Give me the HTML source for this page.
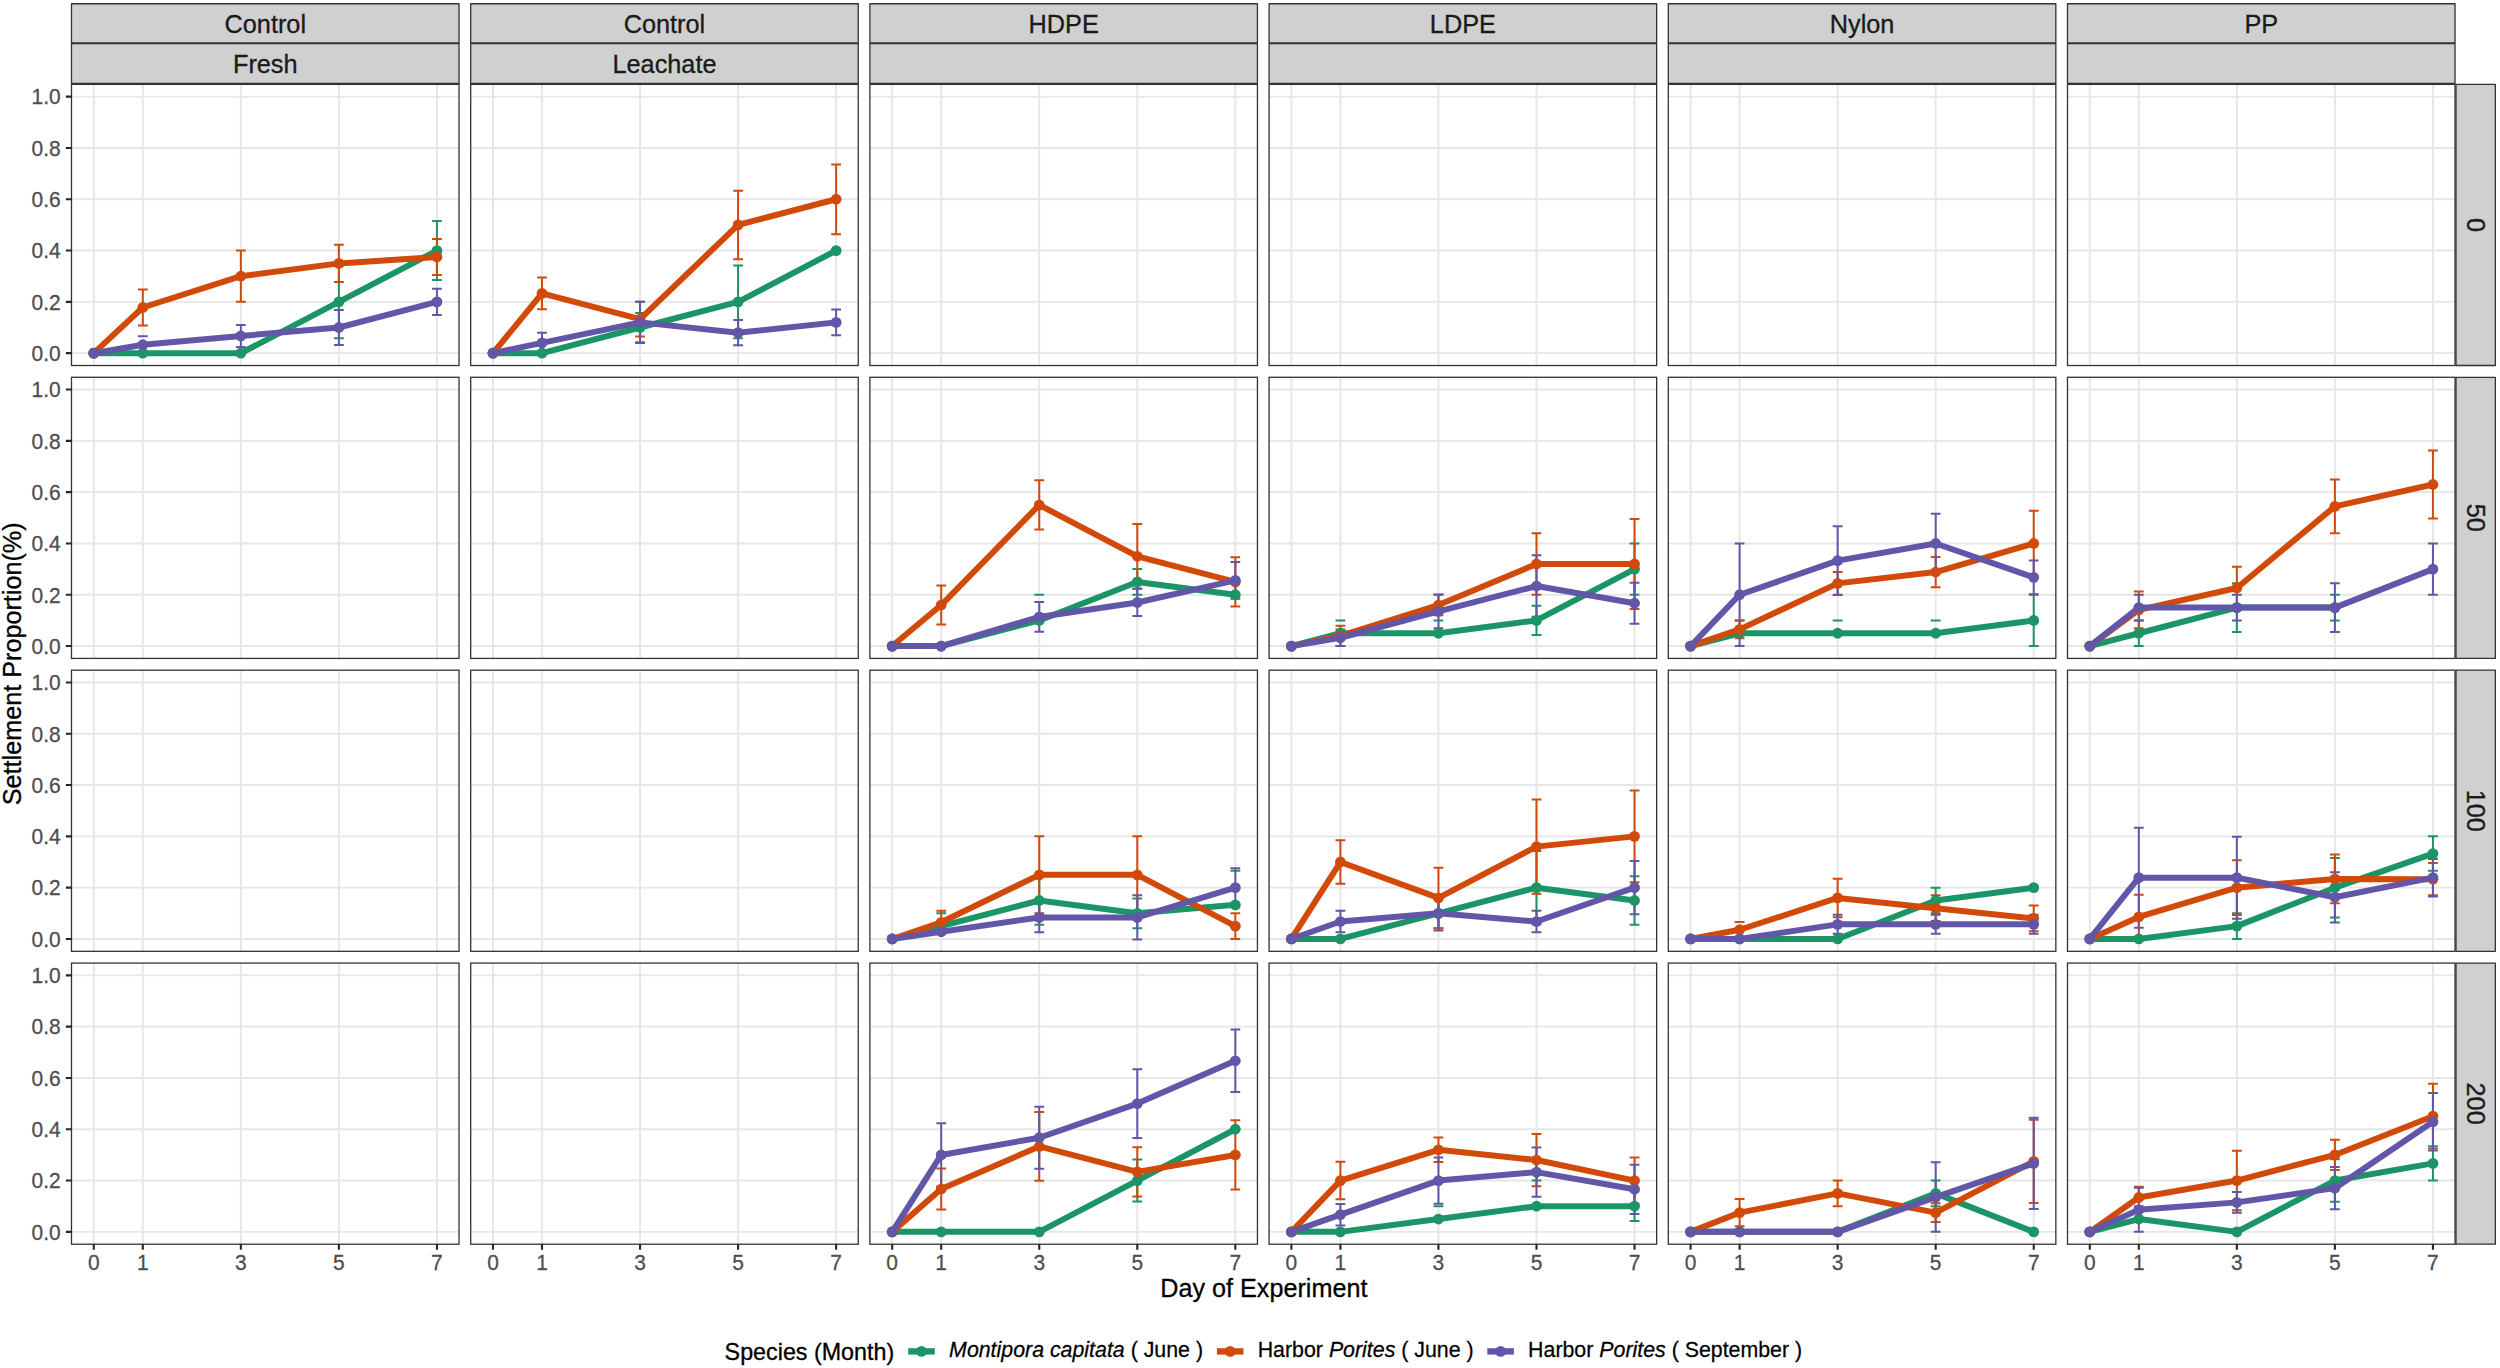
<!DOCTYPE html>
<html lang="en"><head><meta charset="utf-8"><title>Settlement Proportion by Day of Experiment</title>
<style>html,body{margin:0;padding:0;background:#fff}body{width:2500px;height:1368px;overflow:hidden}svg{display:block}text{font-family:"Liberation Sans",sans-serif}.tl{font-size:21.0px;fill:#4D4D4D;stroke:#4D4D4D;stroke-width:.25px}.st{font-size:25.3px;fill:#1A1A1A;stroke:#1A1A1A;stroke-width:.3px}.at{font-size:25.2px;fill:#000;stroke:#000;stroke-width:.3px}.lt{font-size:23.3px;fill:#000;stroke:#000;stroke-width:.3px}.ll{font-size:21.35px;fill:#000;stroke:#000;stroke-width:.25px}</style></head><body>
<svg width="2500" height="1368" viewBox="0 0 2500 1368">
<rect width="2500" height="1368" fill="#fff"/>
<g>
<path d="M71.49 353.17H459.04M71.49 301.87H459.04M71.49 250.57H459.04M71.49 199.27H459.04M71.49 147.97H459.04M71.49 96.67H459.04M93.79 84.38V365.52M142.81 84.38V365.52M240.85 84.38V365.52M338.89 84.38V365.52M436.93 84.38V365.52" stroke="#E6E6E6" stroke-width="1.9" fill="none"/>
<path d="M333.99 265.45H343.79M338.89 265.45V338.29M333.99 338.29H343.79M432.03 221.07H441.83M436.93 221.07V280.07M432.03 280.07H441.83" stroke="#1C9566" stroke-width="2.0" fill="none"/>
<path d="M137.91 289.56H147.71M142.81 289.56V325.47M137.91 325.47H147.71M235.95 250.57H245.75M240.85 250.57V301.87M235.95 301.87H245.75M333.99 244.67H343.79M338.89 244.67V282.12M333.99 282.12H343.79M432.03 239.03H441.83M436.93 239.03V274.94M432.03 274.94H441.83" stroke="#D24A0A" stroke-width="2.0" fill="none"/>
<path d="M137.91 336.24H147.71M235.95 324.95H245.75M240.85 324.95V347.01M235.95 347.01H245.75M333.99 310.08H343.79M338.89 310.08V344.96M333.99 344.96H343.79M432.03 288.79H441.83M436.93 288.79V314.95M432.03 314.95H441.83" stroke="#6256A8" stroke-width="2.0" fill="none"/>
<polyline points="93.79,353.17 142.81,353.17 240.85,353.17 338.89,301.87 436.93,250.57" stroke="#1C9566" stroke-width="6.0" fill="none" stroke-linejoin="round" stroke-linecap="butt"/>
<polyline points="93.79,353.17 142.81,307.51 240.85,276.22 338.89,263.39 436.93,256.98" stroke="#D24A0A" stroke-width="6.0" fill="none" stroke-linejoin="round" stroke-linecap="butt"/>
<polyline points="93.79,353.17 142.81,344.71 240.85,335.98 338.89,327.52 436.93,301.87" stroke="#6256A8" stroke-width="6.0" fill="none" stroke-linejoin="round" stroke-linecap="butt"/>
<circle cx="93.79" cy="353.17" r="5.4" fill="#1C9566"/>
<circle cx="142.81" cy="353.17" r="5.4" fill="#1C9566"/>
<circle cx="240.85" cy="353.17" r="5.4" fill="#1C9566"/>
<circle cx="338.89" cy="301.87" r="5.4" fill="#1C9566"/>
<circle cx="436.93" cy="250.57" r="5.4" fill="#1C9566"/>
<circle cx="93.79" cy="353.17" r="5.4" fill="#D24A0A"/>
<circle cx="142.81" cy="307.51" r="5.4" fill="#D24A0A"/>
<circle cx="240.85" cy="276.22" r="5.4" fill="#D24A0A"/>
<circle cx="338.89" cy="263.39" r="5.4" fill="#D24A0A"/>
<circle cx="436.93" cy="256.98" r="5.4" fill="#D24A0A"/>
<circle cx="93.79" cy="353.17" r="5.4" fill="#6256A8"/>
<circle cx="142.81" cy="344.71" r="5.4" fill="#6256A8"/>
<circle cx="240.85" cy="335.98" r="5.4" fill="#6256A8"/>
<circle cx="338.89" cy="327.52" r="5.4" fill="#6256A8"/>
<circle cx="436.93" cy="301.87" r="5.4" fill="#6256A8"/>
<rect x="71.49" y="84.38" width="387.55" height="281.14" fill="none" stroke="#333333" stroke-width="1.3"/>
</g>
<g>
<path d="M470.69 353.17H858.24M470.69 301.87H858.24M470.69 250.57H858.24M470.69 199.27H858.24M470.69 147.97H858.24M470.69 96.67H858.24M492.99 84.38V365.52M542.01 84.38V365.52M640.05 84.38V365.52M738.09 84.38V365.52M836.13 84.38V365.52" stroke="#E6E6E6" stroke-width="1.9" fill="none"/>
<path d="M635.15 312.9H644.95M640.05 312.9V342.14M635.15 342.14H644.95M733.19 265.45H742.99M738.09 265.45V338.29M733.19 338.29H742.99" stroke="#1C9566" stroke-width="2.0" fill="none"/>
<path d="M537.11 277.5H546.91M542.01 277.5V309.31M537.11 309.31H546.91M635.15 301.87H644.95M640.05 301.87V336.5M635.15 336.5H644.95M733.19 190.68H742.99M738.09 190.68V259.16M733.19 259.16H742.99M831.23 164.39H841.03M836.13 164.39V234.15M831.23 234.15H841.03" stroke="#D24A0A" stroke-width="2.0" fill="none"/>
<path d="M537.11 332.65H546.91M542.01 332.65V353.17M537.11 353.17H546.91M635.15 301.87H644.95M640.05 301.87V342.91M635.15 342.91H644.95M733.19 320.08H742.99M738.09 320.08V345.22M733.19 345.22H742.99M831.23 309.56H841.03M836.13 309.56V335.21M831.23 335.21H841.03" stroke="#6256A8" stroke-width="2.0" fill="none"/>
<polyline points="492.99,353.17 542.01,353.17 640.05,327.52 738.09,301.87 836.13,250.57" stroke="#1C9566" stroke-width="6.0" fill="none" stroke-linejoin="round" stroke-linecap="butt"/>
<polyline points="492.99,353.17 542.01,293.41 640.05,319.18 738.09,224.92 836.13,199.27" stroke="#D24A0A" stroke-width="6.0" fill="none" stroke-linejoin="round" stroke-linecap="butt"/>
<polyline points="492.99,353.17 542.01,342.91 640.05,322.39 738.09,332.65 836.13,322.39" stroke="#6256A8" stroke-width="6.0" fill="none" stroke-linejoin="round" stroke-linecap="butt"/>
<circle cx="492.99" cy="353.17" r="5.4" fill="#1C9566"/>
<circle cx="542.01" cy="353.17" r="5.4" fill="#1C9566"/>
<circle cx="640.05" cy="327.52" r="5.4" fill="#1C9566"/>
<circle cx="738.09" cy="301.87" r="5.4" fill="#1C9566"/>
<circle cx="836.13" cy="250.57" r="5.4" fill="#1C9566"/>
<circle cx="492.99" cy="353.17" r="5.4" fill="#D24A0A"/>
<circle cx="542.01" cy="293.41" r="5.4" fill="#D24A0A"/>
<circle cx="640.05" cy="319.18" r="5.4" fill="#D24A0A"/>
<circle cx="738.09" cy="224.92" r="5.4" fill="#D24A0A"/>
<circle cx="836.13" cy="199.27" r="5.4" fill="#D24A0A"/>
<circle cx="492.99" cy="353.17" r="5.4" fill="#6256A8"/>
<circle cx="542.01" cy="342.91" r="5.4" fill="#6256A8"/>
<circle cx="640.05" cy="322.39" r="5.4" fill="#6256A8"/>
<circle cx="738.09" cy="332.65" r="5.4" fill="#6256A8"/>
<circle cx="836.13" cy="322.39" r="5.4" fill="#6256A8"/>
<rect x="470.69" y="84.38" width="387.55" height="281.14" fill="none" stroke="#333333" stroke-width="1.3"/>
</g>
<g>
<path d="M869.89 353.17H1257.44M869.89 301.87H1257.44M869.89 250.57H1257.44M869.89 199.27H1257.44M869.89 147.97H1257.44M869.89 96.67H1257.44M892.19 84.38V365.52M941.21 84.38V365.52M1039.25 84.38V365.52M1137.29 84.38V365.52M1235.33 84.38V365.52" stroke="#E6E6E6" stroke-width="1.9" fill="none"/>
<rect x="869.89" y="84.38" width="387.55" height="281.14" fill="none" stroke="#333333" stroke-width="1.3"/>
</g>
<g>
<path d="M1269.09 353.17H1656.64M1269.09 301.87H1656.64M1269.09 250.57H1656.64M1269.09 199.27H1656.64M1269.09 147.97H1656.64M1269.09 96.67H1656.64M1291.39 84.38V365.52M1340.41 84.38V365.52M1438.45 84.38V365.52M1536.49 84.38V365.52M1634.53 84.38V365.52" stroke="#E6E6E6" stroke-width="1.9" fill="none"/>
<rect x="1269.09" y="84.38" width="387.55" height="281.14" fill="none" stroke="#333333" stroke-width="1.3"/>
</g>
<g>
<path d="M1668.29 353.17H2055.84M1668.29 301.87H2055.84M1668.29 250.57H2055.84M1668.29 199.27H2055.84M1668.29 147.97H2055.84M1668.29 96.67H2055.84M1690.59 84.38V365.52M1739.61 84.38V365.52M1837.65 84.38V365.52M1935.69 84.38V365.52M2033.73 84.38V365.52" stroke="#E6E6E6" stroke-width="1.9" fill="none"/>
<rect x="1668.29" y="84.38" width="387.55" height="281.14" fill="none" stroke="#333333" stroke-width="1.3"/>
</g>
<g>
<path d="M2067.49 353.17H2455.04M2067.49 301.87H2455.04M2067.49 250.57H2455.04M2067.49 199.27H2455.04M2067.49 147.97H2455.04M2067.49 96.67H2455.04M2089.79 84.38V365.52M2138.81 84.38V365.52M2236.85 84.38V365.52M2334.89 84.38V365.52M2432.93 84.38V365.52" stroke="#E6E6E6" stroke-width="1.9" fill="none"/>
<rect x="2067.49" y="84.38" width="387.55" height="281.14" fill="none" stroke="#333333" stroke-width="1.3"/>
</g>
<g>
<path d="M71.49 646.07H459.04M71.49 594.77H459.04M71.49 543.47H459.04M71.49 492.17H459.04M71.49 440.87H459.04M71.49 389.57H459.04M93.79 377.28V658.42M142.81 377.28V658.42M240.85 377.28V658.42M338.89 377.28V658.42M436.93 377.28V658.42" stroke="#E6E6E6" stroke-width="1.9" fill="none"/>
<rect x="71.49" y="377.28" width="387.55" height="281.14" fill="none" stroke="#333333" stroke-width="1.3"/>
</g>
<g>
<path d="M470.69 646.07H858.24M470.69 594.77H858.24M470.69 543.47H858.24M470.69 492.17H858.24M470.69 440.87H858.24M470.69 389.57H858.24M492.99 377.28V658.42M542.01 377.28V658.42M640.05 377.28V658.42M738.09 377.28V658.42M836.13 377.28V658.42" stroke="#E6E6E6" stroke-width="1.9" fill="none"/>
<rect x="470.69" y="377.28" width="387.55" height="281.14" fill="none" stroke="#333333" stroke-width="1.3"/>
</g>
<g>
<path d="M869.89 646.07H1257.44M869.89 594.77H1257.44M869.89 543.47H1257.44M869.89 492.17H1257.44M869.89 440.87H1257.44M869.89 389.57H1257.44M892.19 377.28V658.42M941.21 377.28V658.42M1039.25 377.28V658.42M1137.29 377.28V658.42M1235.33 377.28V658.42" stroke="#E6E6E6" stroke-width="1.9" fill="none"/>
<path d="M1034.35 594.77H1044.15M1132.39 569.12H1142.19M1137.29 569.12V594.77M1132.39 594.77H1142.19" stroke="#1C9566" stroke-width="2.0" fill="none"/>
<path d="M936.31 585.54H946.11M941.21 585.54V624.52M936.31 624.52H946.11M1034.35 480.37H1044.15M1039.25 480.37V529.62M1034.35 529.62H1044.15M1132.39 523.98H1142.19M1137.29 523.98V588.61M1132.39 588.61H1142.19M1230.43 557.32H1240.23M1235.33 557.32V606.57M1230.43 606.57H1240.23" stroke="#D24A0A" stroke-width="2.0" fill="none"/>
<path d="M1034.35 602.03H1044.15M1039.25 602.03V631.78M1034.35 631.78H1044.15M1132.39 588.87H1142.19M1137.29 588.87V616.06M1132.39 616.06H1142.19M1230.43 561.94H1240.23M1235.33 561.94V598.87M1230.43 598.87H1240.23" stroke="#6256A8" stroke-width="2.0" fill="none"/>
<polyline points="892.19,646.07 941.21,646.07 1039.25,620.42 1137.29,581.94 1235.33,594.77" stroke="#1C9566" stroke-width="6.0" fill="none" stroke-linejoin="round" stroke-linecap="butt"/>
<polyline points="892.19,646.07 941.21,605.03 1039.25,504.99 1137.29,556.29 1235.33,581.94" stroke="#D24A0A" stroke-width="6.0" fill="none" stroke-linejoin="round" stroke-linecap="butt"/>
<polyline points="892.19,646.07 941.21,646.07 1039.25,616.91 1137.29,602.46 1235.33,580.41" stroke="#6256A8" stroke-width="6.0" fill="none" stroke-linejoin="round" stroke-linecap="butt"/>
<circle cx="892.19" cy="646.07" r="5.4" fill="#1C9566"/>
<circle cx="941.21" cy="646.07" r="5.4" fill="#1C9566"/>
<circle cx="1039.25" cy="620.42" r="5.4" fill="#1C9566"/>
<circle cx="1137.29" cy="581.94" r="5.4" fill="#1C9566"/>
<circle cx="1235.33" cy="594.77" r="5.4" fill="#1C9566"/>
<circle cx="892.19" cy="646.07" r="5.4" fill="#D24A0A"/>
<circle cx="941.21" cy="605.03" r="5.4" fill="#D24A0A"/>
<circle cx="1039.25" cy="504.99" r="5.4" fill="#D24A0A"/>
<circle cx="1137.29" cy="556.29" r="5.4" fill="#D24A0A"/>
<circle cx="1235.33" cy="581.94" r="5.4" fill="#D24A0A"/>
<circle cx="892.19" cy="646.07" r="5.4" fill="#6256A8"/>
<circle cx="941.21" cy="646.07" r="5.4" fill="#6256A8"/>
<circle cx="1039.25" cy="616.91" r="5.4" fill="#6256A8"/>
<circle cx="1137.29" cy="602.46" r="5.4" fill="#6256A8"/>
<circle cx="1235.33" cy="580.41" r="5.4" fill="#6256A8"/>
<rect x="869.89" y="377.28" width="387.55" height="281.14" fill="none" stroke="#333333" stroke-width="1.3"/>
</g>
<g>
<path d="M1269.09 646.07H1656.64M1269.09 594.77H1656.64M1269.09 543.47H1656.64M1269.09 492.17H1656.64M1269.09 440.87H1656.64M1269.09 389.57H1656.64M1291.39 377.28V658.42M1340.41 377.28V658.42M1438.45 377.28V658.42M1536.49 377.28V658.42M1634.53 377.28V658.42" stroke="#E6E6E6" stroke-width="1.9" fill="none"/>
<path d="M1335.51 620.42H1345.31M1433.55 620.42H1443.35M1531.59 605.8H1541.39M1536.49 605.8V635.04M1531.59 635.04H1541.39M1629.63 543.47H1639.43M1634.53 543.47V594.77M1629.63 594.77H1639.43" stroke="#1C9566" stroke-width="2.0" fill="none"/>
<path d="M1335.51 625.68H1345.31M1340.41 625.68V645.94M1335.51 645.94H1345.31M1433.55 594.77H1443.35M1438.45 594.77V615.29M1433.55 615.29H1443.35M1531.59 533.21H1541.39M1536.49 533.21V594.77M1531.59 594.77H1541.39M1629.63 519.1H1639.43M1634.53 519.1V608.88M1629.63 608.88H1639.43" stroke="#D24A0A" stroke-width="2.0" fill="none"/>
<path d="M1335.51 629.4H1345.31M1340.41 629.4V646.07M1335.51 646.07H1345.31M1433.55 594.51H1443.35M1438.45 594.51V628.37M1433.55 628.37H1443.35M1531.59 555.27H1541.39M1536.49 555.27V616.83M1531.59 616.83H1541.39M1629.63 582.71H1639.43M1634.53 582.71V623.75M1629.63 623.75H1639.43" stroke="#6256A8" stroke-width="2.0" fill="none"/>
<polyline points="1291.39,646.07 1340.41,633.24 1438.45,633.24 1536.49,620.42 1634.53,569.12" stroke="#1C9566" stroke-width="6.0" fill="none" stroke-linejoin="round" stroke-linecap="butt"/>
<polyline points="1291.39,646.07 1340.41,635.81 1438.45,605.03 1536.49,563.99 1634.53,563.99" stroke="#D24A0A" stroke-width="6.0" fill="none" stroke-linejoin="round" stroke-linecap="butt"/>
<polyline points="1291.39,646.07 1340.41,637.73 1438.45,611.44 1536.49,586.05 1634.53,603.23" stroke="#6256A8" stroke-width="6.0" fill="none" stroke-linejoin="round" stroke-linecap="butt"/>
<circle cx="1291.39" cy="646.07" r="5.4" fill="#1C9566"/>
<circle cx="1340.41" cy="633.24" r="5.4" fill="#1C9566"/>
<circle cx="1438.45" cy="633.24" r="5.4" fill="#1C9566"/>
<circle cx="1536.49" cy="620.42" r="5.4" fill="#1C9566"/>
<circle cx="1634.53" cy="569.12" r="5.4" fill="#1C9566"/>
<circle cx="1291.39" cy="646.07" r="5.4" fill="#D24A0A"/>
<circle cx="1340.41" cy="635.81" r="5.4" fill="#D24A0A"/>
<circle cx="1438.45" cy="605.03" r="5.4" fill="#D24A0A"/>
<circle cx="1536.49" cy="563.99" r="5.4" fill="#D24A0A"/>
<circle cx="1634.53" cy="563.99" r="5.4" fill="#D24A0A"/>
<circle cx="1291.39" cy="646.07" r="5.4" fill="#6256A8"/>
<circle cx="1340.41" cy="637.73" r="5.4" fill="#6256A8"/>
<circle cx="1438.45" cy="611.44" r="5.4" fill="#6256A8"/>
<circle cx="1536.49" cy="586.05" r="5.4" fill="#6256A8"/>
<circle cx="1634.53" cy="603.23" r="5.4" fill="#6256A8"/>
<rect x="1269.09" y="377.28" width="387.55" height="281.14" fill="none" stroke="#333333" stroke-width="1.3"/>
</g>
<g>
<path d="M1668.29 646.07H2055.84M1668.29 594.77H2055.84M1668.29 543.47H2055.84M1668.29 492.17H2055.84M1668.29 440.87H2055.84M1668.29 389.57H2055.84M1690.59 377.28V658.42M1739.61 377.28V658.42M1837.65 377.28V658.42M1935.69 377.28V658.42M2033.73 377.28V658.42" stroke="#E6E6E6" stroke-width="1.9" fill="none"/>
<path d="M1734.71 620.42H1744.51M1832.75 620.42H1842.55M1930.79 620.42H1940.59M2028.83 594.77H2038.63M2033.73 594.77V646.07M2028.83 646.07H2038.63" stroke="#1C9566" stroke-width="2.0" fill="none"/>
<path d="M1734.71 620.42H1744.51M1739.61 620.42V638.37M1734.71 638.37H1744.51M1832.75 571.94H1842.55M1837.65 571.94V594.77M1832.75 594.77H1842.55M1930.79 556.91H1940.59M1935.69 556.91V587.18M1930.79 587.18H1940.59M2028.83 510.64H2038.63M2033.73 510.64V576.3M2028.83 576.3H2038.63" stroke="#D24A0A" stroke-width="2.0" fill="none"/>
<path d="M1734.71 543.47H1744.51M1739.61 543.47V646.07M1734.71 646.07H1744.51M1832.75 526.28H1842.55M1837.65 526.28V595.03M1832.75 595.03H1842.55M1930.79 513.72H1940.59M1935.69 513.72V573.22M1930.79 573.22H1940.59M2028.83 560.4H2038.63M2033.73 560.4V594.26M2028.83 594.26H2038.63" stroke="#6256A8" stroke-width="2.0" fill="none"/>
<polyline points="1690.59,646.07 1739.61,633.24 1837.65,633.24 1935.69,633.24 2033.73,620.42" stroke="#1C9566" stroke-width="6.0" fill="none" stroke-linejoin="round" stroke-linecap="butt"/>
<polyline points="1690.59,646.07 1739.61,629.4 1837.65,583.36 1935.69,572.04 2033.73,543.47" stroke="#D24A0A" stroke-width="6.0" fill="none" stroke-linejoin="round" stroke-linecap="butt"/>
<polyline points="1690.59,646.07 1739.61,594.77 1837.65,560.66 1935.69,543.47 2033.73,577.33" stroke="#6256A8" stroke-width="6.0" fill="none" stroke-linejoin="round" stroke-linecap="butt"/>
<circle cx="1690.59" cy="646.07" r="5.4" fill="#1C9566"/>
<circle cx="1739.61" cy="633.24" r="5.4" fill="#1C9566"/>
<circle cx="1837.65" cy="633.24" r="5.4" fill="#1C9566"/>
<circle cx="1935.69" cy="633.24" r="5.4" fill="#1C9566"/>
<circle cx="2033.73" cy="620.42" r="5.4" fill="#1C9566"/>
<circle cx="1690.59" cy="646.07" r="5.4" fill="#D24A0A"/>
<circle cx="1739.61" cy="629.4" r="5.4" fill="#D24A0A"/>
<circle cx="1837.65" cy="583.36" r="5.4" fill="#D24A0A"/>
<circle cx="1935.69" cy="572.04" r="5.4" fill="#D24A0A"/>
<circle cx="2033.73" cy="543.47" r="5.4" fill="#D24A0A"/>
<circle cx="1690.59" cy="646.07" r="5.4" fill="#6256A8"/>
<circle cx="1739.61" cy="594.77" r="5.4" fill="#6256A8"/>
<circle cx="1837.65" cy="560.66" r="5.4" fill="#6256A8"/>
<circle cx="1935.69" cy="543.47" r="5.4" fill="#6256A8"/>
<circle cx="2033.73" cy="577.33" r="5.4" fill="#6256A8"/>
<rect x="1668.29" y="377.28" width="387.55" height="281.14" fill="none" stroke="#333333" stroke-width="1.3"/>
</g>
<g>
<path d="M2067.49 646.07H2455.04M2067.49 594.77H2455.04M2067.49 543.47H2455.04M2067.49 492.17H2455.04M2067.49 440.87H2455.04M2067.49 389.57H2455.04M2089.79 377.28V658.42M2138.81 377.28V658.42M2236.85 377.28V658.42M2334.89 377.28V658.42M2432.93 377.28V658.42" stroke="#E6E6E6" stroke-width="1.9" fill="none"/>
<path d="M2133.91 620.42H2143.71M2138.81 620.42V646.07M2133.91 646.07H2143.71M2231.95 583.23H2241.75M2236.85 583.23V631.96M2231.95 631.96H2241.75M2329.99 594.77H2339.79M2334.89 594.77V620.42M2329.99 620.42H2339.79" stroke="#1C9566" stroke-width="2.0" fill="none"/>
<path d="M2133.91 591.44H2143.71M2138.81 591.44V628.37M2133.91 628.37H2143.71M2231.95 566.68H2241.75M2236.85 566.68V609.26M2231.95 609.26H2241.75M2329.99 479.47H2339.79M2334.89 479.47V533.34M2329.99 533.34H2339.79M2428.03 450.49H2437.83M2432.93 450.49V518.46M2428.03 518.46H2437.83" stroke="#D24A0A" stroke-width="2.0" fill="none"/>
<path d="M2133.91 594.77H2143.71M2138.81 594.77V620.42M2133.91 620.42H2143.71M2231.95 594.77H2241.75M2236.85 594.77V620.42M2231.95 620.42H2241.75M2329.99 583.23H2339.79M2334.89 583.23V631.96M2329.99 631.96H2339.79M2428.03 543.47H2437.83M2432.93 543.47V594.77M2428.03 594.77H2437.83" stroke="#6256A8" stroke-width="2.0" fill="none"/>
<polyline points="2089.79,646.07 2138.81,633.24 2236.85,607.59 2334.89,607.59" stroke="#1C9566" stroke-width="6.0" fill="none" stroke-linejoin="round" stroke-linecap="butt"/>
<polyline points="2089.79,646.07 2138.81,609.9 2236.85,587.97 2334.89,506.41 2432.93,484.47" stroke="#D24A0A" stroke-width="6.0" fill="none" stroke-linejoin="round" stroke-linecap="butt"/>
<polyline points="2089.79,646.07 2138.81,607.59 2236.85,607.59 2334.89,607.59 2432.93,569.12" stroke="#6256A8" stroke-width="6.0" fill="none" stroke-linejoin="round" stroke-linecap="butt"/>
<circle cx="2089.79" cy="646.07" r="5.4" fill="#1C9566"/>
<circle cx="2138.81" cy="633.24" r="5.4" fill="#1C9566"/>
<circle cx="2236.85" cy="607.59" r="5.4" fill="#1C9566"/>
<circle cx="2334.89" cy="607.59" r="5.4" fill="#1C9566"/>
<circle cx="2089.79" cy="646.07" r="5.4" fill="#D24A0A"/>
<circle cx="2138.81" cy="609.9" r="5.4" fill="#D24A0A"/>
<circle cx="2236.85" cy="587.97" r="5.4" fill="#D24A0A"/>
<circle cx="2334.89" cy="506.41" r="5.4" fill="#D24A0A"/>
<circle cx="2432.93" cy="484.47" r="5.4" fill="#D24A0A"/>
<circle cx="2089.79" cy="646.07" r="5.4" fill="#6256A8"/>
<circle cx="2138.81" cy="607.59" r="5.4" fill="#6256A8"/>
<circle cx="2236.85" cy="607.59" r="5.4" fill="#6256A8"/>
<circle cx="2334.89" cy="607.59" r="5.4" fill="#6256A8"/>
<circle cx="2432.93" cy="569.12" r="5.4" fill="#6256A8"/>
<rect x="2067.49" y="377.28" width="387.55" height="281.14" fill="none" stroke="#333333" stroke-width="1.3"/>
</g>
<g>
<path d="M71.49 938.97H459.04M71.49 887.67H459.04M71.49 836.37H459.04M71.49 785.07H459.04M71.49 733.77H459.04M71.49 682.47H459.04M93.79 670.18V951.32M142.81 670.18V951.32M240.85 670.18V951.32M338.89 670.18V951.32M436.93 670.18V951.32" stroke="#E6E6E6" stroke-width="1.9" fill="none"/>
<rect x="71.49" y="670.18" width="387.55" height="281.14" fill="none" stroke="#333333" stroke-width="1.3"/>
</g>
<g>
<path d="M470.69 938.97H858.24M470.69 887.67H858.24M470.69 836.37H858.24M470.69 785.07H858.24M470.69 733.77H858.24M470.69 682.47H858.24M492.99 670.18V951.32M542.01 670.18V951.32M640.05 670.18V951.32M738.09 670.18V951.32M836.13 670.18V951.32" stroke="#E6E6E6" stroke-width="1.9" fill="none"/>
<rect x="470.69" y="670.18" width="387.55" height="281.14" fill="none" stroke="#333333" stroke-width="1.3"/>
</g>
<g>
<path d="M869.89 938.97H1257.44M869.89 887.67H1257.44M869.89 836.37H1257.44M869.89 785.07H1257.44M869.89 733.77H1257.44M869.89 682.47H1257.44M892.19 670.18V951.32M941.21 670.18V951.32M1039.25 670.18V951.32M1137.29 670.18V951.32M1235.33 670.18V951.32" stroke="#E6E6E6" stroke-width="1.9" fill="none"/>
<path d="M936.31 913.32H946.11M1034.35 876.13H1044.15M1039.25 876.13V924.86M1034.35 924.86H1044.15M1132.39 898.44H1142.19M1137.29 898.44V928.2M1132.39 928.2H1142.19M1230.43 870.74H1240.23" stroke="#1C9566" stroke-width="2.0" fill="none"/>
<path d="M936.31 910.75H946.11M941.21 910.75V933.84M936.31 933.84H946.11M1034.35 836.37H1044.15M1039.25 836.37V913.32M1034.35 913.32H1044.15M1132.39 836.37H1142.19M1137.29 836.37V913.32M1132.39 913.32H1142.19M1230.43 913.32H1240.23M1235.33 913.32V938.97M1230.43 938.97H1240.23" stroke="#D24A0A" stroke-width="2.0" fill="none"/>
<path d="M1034.35 902.55H1044.15M1039.25 902.55V932.3M1034.35 932.3H1044.15M1132.39 895.36H1142.19M1137.29 895.36V939.48M1132.39 939.48H1142.19M1230.43 868.18H1240.23M1235.33 868.18V907.16M1230.43 907.16H1240.23" stroke="#6256A8" stroke-width="2.0" fill="none"/>
<polyline points="892.19,938.97 941.21,926.14 1039.25,900.49 1137.29,913.32 1235.33,904.86" stroke="#1C9566" stroke-width="6.0" fill="none" stroke-linejoin="round" stroke-linecap="butt"/>
<polyline points="892.19,938.97 941.21,922.3 1039.25,874.84 1137.29,874.84 1235.33,926.14" stroke="#D24A0A" stroke-width="6.0" fill="none" stroke-linejoin="round" stroke-linecap="butt"/>
<polyline points="892.19,938.97 941.21,931.79 1039.25,917.42 1137.29,917.42 1235.33,887.67" stroke="#6256A8" stroke-width="6.0" fill="none" stroke-linejoin="round" stroke-linecap="butt"/>
<circle cx="892.19" cy="938.97" r="5.4" fill="#1C9566"/>
<circle cx="941.21" cy="926.14" r="5.4" fill="#1C9566"/>
<circle cx="1039.25" cy="900.49" r="5.4" fill="#1C9566"/>
<circle cx="1137.29" cy="913.32" r="5.4" fill="#1C9566"/>
<circle cx="1235.33" cy="904.86" r="5.4" fill="#1C9566"/>
<circle cx="892.19" cy="938.97" r="5.4" fill="#D24A0A"/>
<circle cx="941.21" cy="922.3" r="5.4" fill="#D24A0A"/>
<circle cx="1039.25" cy="874.84" r="5.4" fill="#D24A0A"/>
<circle cx="1137.29" cy="874.84" r="5.4" fill="#D24A0A"/>
<circle cx="1235.33" cy="926.14" r="5.4" fill="#D24A0A"/>
<circle cx="892.19" cy="938.97" r="5.4" fill="#6256A8"/>
<circle cx="941.21" cy="931.79" r="5.4" fill="#6256A8"/>
<circle cx="1039.25" cy="917.42" r="5.4" fill="#6256A8"/>
<circle cx="1137.29" cy="917.42" r="5.4" fill="#6256A8"/>
<circle cx="1235.33" cy="887.67" r="5.4" fill="#6256A8"/>
<rect x="869.89" y="670.18" width="387.55" height="281.14" fill="none" stroke="#333333" stroke-width="1.3"/>
</g>
<g>
<path d="M1269.09 938.97H1656.64M1269.09 887.67H1656.64M1269.09 836.37H1656.64M1269.09 785.07H1656.64M1269.09 733.77H1656.64M1269.09 682.47H1656.64M1291.39 670.18V951.32M1340.41 670.18V951.32M1438.45 670.18V951.32M1536.49 670.18V951.32M1634.53 670.18V951.32" stroke="#E6E6E6" stroke-width="1.9" fill="none"/>
<path d="M1433.55 898.44H1443.35M1438.45 898.44V928.2M1433.55 928.2H1443.35M1531.59 850.99H1541.39M1536.49 850.99V924.35M1531.59 924.35H1541.39M1629.63 876.13H1639.43M1634.53 876.13V924.86M1629.63 924.86H1639.43" stroke="#1C9566" stroke-width="2.0" fill="none"/>
<path d="M1335.51 840.22H1345.31M1340.41 840.22V883.82M1335.51 883.82H1345.31M1433.55 867.66H1443.35M1438.45 867.66V928.2M1433.55 928.2H1443.35M1531.59 799.43H1541.39M1536.49 799.43V893.83M1531.59 893.83H1541.39M1629.63 790.46H1639.43M1634.53 790.46V882.28M1629.63 882.28H1639.43" stroke="#D24A0A" stroke-width="2.0" fill="none"/>
<path d="M1335.51 910.75H1345.31M1340.41 910.75V932.3M1335.51 932.3H1345.31M1433.55 896.13H1443.35M1438.45 896.13V930.51M1433.55 930.51H1443.35M1531.59 910.75H1541.39M1536.49 910.75V932.3M1531.59 932.3H1541.39M1629.63 860.99H1639.43M1634.53 860.99V914.35M1629.63 914.35H1639.43" stroke="#6256A8" stroke-width="2.0" fill="none"/>
<polyline points="1291.39,938.97 1340.41,938.97 1438.45,913.32 1536.49,887.67 1634.53,900.49" stroke="#1C9566" stroke-width="6.0" fill="none" stroke-linejoin="round" stroke-linecap="butt"/>
<polyline points="1291.39,938.97 1340.41,862.02 1438.45,897.93 1536.49,846.63 1634.53,836.37" stroke="#D24A0A" stroke-width="6.0" fill="none" stroke-linejoin="round" stroke-linecap="butt"/>
<polyline points="1291.39,938.97 1340.41,921.53 1438.45,913.32 1536.49,921.53 1634.53,887.67" stroke="#6256A8" stroke-width="6.0" fill="none" stroke-linejoin="round" stroke-linecap="butt"/>
<circle cx="1291.39" cy="938.97" r="5.4" fill="#1C9566"/>
<circle cx="1340.41" cy="938.97" r="5.4" fill="#1C9566"/>
<circle cx="1438.45" cy="913.32" r="5.4" fill="#1C9566"/>
<circle cx="1536.49" cy="887.67" r="5.4" fill="#1C9566"/>
<circle cx="1634.53" cy="900.49" r="5.4" fill="#1C9566"/>
<circle cx="1291.39" cy="938.97" r="5.4" fill="#D24A0A"/>
<circle cx="1340.41" cy="862.02" r="5.4" fill="#D24A0A"/>
<circle cx="1438.45" cy="897.93" r="5.4" fill="#D24A0A"/>
<circle cx="1536.49" cy="846.63" r="5.4" fill="#D24A0A"/>
<circle cx="1634.53" cy="836.37" r="5.4" fill="#D24A0A"/>
<circle cx="1291.39" cy="938.97" r="5.4" fill="#6256A8"/>
<circle cx="1340.41" cy="921.53" r="5.4" fill="#6256A8"/>
<circle cx="1438.45" cy="913.32" r="5.4" fill="#6256A8"/>
<circle cx="1536.49" cy="921.53" r="5.4" fill="#6256A8"/>
<circle cx="1634.53" cy="887.67" r="5.4" fill="#6256A8"/>
<rect x="1269.09" y="670.18" width="387.55" height="281.14" fill="none" stroke="#333333" stroke-width="1.3"/>
</g>
<g>
<path d="M1668.29 938.97H2055.84M1668.29 887.67H2055.84M1668.29 836.37H2055.84M1668.29 785.07H2055.84M1668.29 733.77H2055.84M1668.29 682.47H2055.84M1690.59 670.18V951.32M1739.61 670.18V951.32M1837.65 670.18V951.32M1935.69 670.18V951.32M2033.73 670.18V951.32" stroke="#E6E6E6" stroke-width="1.9" fill="none"/>
<path d="M1930.79 887.67H1940.59M1935.69 887.67V913.32M1930.79 913.32H1940.59" stroke="#1C9566" stroke-width="2.0" fill="none"/>
<path d="M1734.71 922.04H1744.51M1832.75 878.69H1842.55M1837.65 878.69V917.17M1832.75 917.17H1842.55M1930.79 895.36H1940.59M1935.69 895.36V921.01M1930.79 921.01H1940.59M2028.83 905.62H2038.63M2033.73 905.62V931.27M2028.83 931.27H2038.63" stroke="#D24A0A" stroke-width="2.0" fill="none"/>
<path d="M1832.75 914.86H1842.55M1837.65 914.86V933.84M1832.75 933.84H1842.55M1930.79 914.86H1940.59M1935.69 914.86V933.84M1930.79 933.84H1940.59M2028.83 914.86H2038.63M2033.73 914.86V933.84M2028.83 933.84H2038.63" stroke="#6256A8" stroke-width="2.0" fill="none"/>
<polyline points="1690.59,938.97 1739.61,938.97 1837.65,938.97 1935.69,900.49 2033.73,887.67" stroke="#1C9566" stroke-width="6.0" fill="none" stroke-linejoin="round" stroke-linecap="butt"/>
<polyline points="1690.59,938.97 1739.61,929.74 1837.65,897.93 1935.69,908.19 2033.73,918.45" stroke="#D24A0A" stroke-width="6.0" fill="none" stroke-linejoin="round" stroke-linecap="butt"/>
<polyline points="1690.59,938.97 1739.61,938.97 1837.65,924.35 1935.69,924.35 2033.73,924.35" stroke="#6256A8" stroke-width="6.0" fill="none" stroke-linejoin="round" stroke-linecap="butt"/>
<circle cx="1690.59" cy="938.97" r="5.4" fill="#1C9566"/>
<circle cx="1739.61" cy="938.97" r="5.4" fill="#1C9566"/>
<circle cx="1837.65" cy="938.97" r="5.4" fill="#1C9566"/>
<circle cx="1935.69" cy="900.49" r="5.4" fill="#1C9566"/>
<circle cx="2033.73" cy="887.67" r="5.4" fill="#1C9566"/>
<circle cx="1690.59" cy="938.97" r="5.4" fill="#D24A0A"/>
<circle cx="1739.61" cy="929.74" r="5.4" fill="#D24A0A"/>
<circle cx="1837.65" cy="897.93" r="5.4" fill="#D24A0A"/>
<circle cx="1935.69" cy="908.19" r="5.4" fill="#D24A0A"/>
<circle cx="2033.73" cy="918.45" r="5.4" fill="#D24A0A"/>
<circle cx="1690.59" cy="938.97" r="5.4" fill="#6256A8"/>
<circle cx="1739.61" cy="938.97" r="5.4" fill="#6256A8"/>
<circle cx="1837.65" cy="924.35" r="5.4" fill="#6256A8"/>
<circle cx="1935.69" cy="924.35" r="5.4" fill="#6256A8"/>
<circle cx="2033.73" cy="924.35" r="5.4" fill="#6256A8"/>
<rect x="1668.29" y="670.18" width="387.55" height="281.14" fill="none" stroke="#333333" stroke-width="1.3"/>
</g>
<g>
<path d="M2067.49 938.97H2455.04M2067.49 887.67H2455.04M2067.49 836.37H2455.04M2067.49 785.07H2455.04M2067.49 733.77H2455.04M2067.49 682.47H2455.04M2089.79 670.18V951.32M2138.81 670.18V951.32M2236.85 670.18V951.32M2334.89 670.18V951.32M2432.93 670.18V951.32" stroke="#E6E6E6" stroke-width="1.9" fill="none"/>
<path d="M2231.95 913.32H2241.75M2236.85 913.32V938.97M2231.95 938.97H2241.75M2329.99 857.92H2339.79M2334.89 857.92V917.42M2329.99 917.42H2339.79M2428.03 836.37H2437.83M2432.93 836.37V870.74M2428.03 870.74H2437.83" stroke="#1C9566" stroke-width="2.0" fill="none"/>
<path d="M2133.91 894.85H2143.71M2138.81 894.85V938.97M2133.91 938.97H2143.71M2231.95 860.22H2241.75M2236.85 860.22V915.12M2231.95 915.12H2241.75M2329.99 854.58H2339.79M2334.89 854.58V903.32M2329.99 903.32H2339.79M2428.03 863.05H2437.83M2432.93 863.05V895.36M2428.03 895.36H2437.83" stroke="#D24A0A" stroke-width="2.0" fill="none"/>
<path d="M2133.91 827.65H2143.71M2138.81 827.65V927.68M2133.91 927.68H2143.71M2231.95 836.63H2241.75M2236.85 836.63V918.71M2231.95 918.71H2241.75M2329.99 872.15H2339.79M2334.89 872.15V922.43M2329.99 922.43H2339.79M2428.03 858.94H2437.83M2432.93 858.94V896.39M2428.03 896.39H2437.83" stroke="#6256A8" stroke-width="2.0" fill="none"/>
<polyline points="2089.79,938.97 2138.81,938.97 2236.85,926.14 2334.89,887.67 2432.93,853.56" stroke="#1C9566" stroke-width="6.0" fill="none" stroke-linejoin="round" stroke-linecap="butt"/>
<polyline points="2089.79,938.97 2138.81,916.91 2236.85,887.67 2334.89,878.95 2432.93,879.21" stroke="#D24A0A" stroke-width="6.0" fill="none" stroke-linejoin="round" stroke-linecap="butt"/>
<polyline points="2089.79,938.97 2138.81,877.67 2236.85,877.67 2334.89,897.29 2432.93,877.67" stroke="#6256A8" stroke-width="6.0" fill="none" stroke-linejoin="round" stroke-linecap="butt"/>
<circle cx="2089.79" cy="938.97" r="5.4" fill="#1C9566"/>
<circle cx="2138.81" cy="938.97" r="5.4" fill="#1C9566"/>
<circle cx="2236.85" cy="926.14" r="5.4" fill="#1C9566"/>
<circle cx="2334.89" cy="887.67" r="5.4" fill="#1C9566"/>
<circle cx="2432.93" cy="853.56" r="5.4" fill="#1C9566"/>
<circle cx="2089.79" cy="938.97" r="5.4" fill="#D24A0A"/>
<circle cx="2138.81" cy="916.91" r="5.4" fill="#D24A0A"/>
<circle cx="2236.85" cy="887.67" r="5.4" fill="#D24A0A"/>
<circle cx="2334.89" cy="878.95" r="5.4" fill="#D24A0A"/>
<circle cx="2432.93" cy="879.21" r="5.4" fill="#D24A0A"/>
<circle cx="2089.79" cy="938.97" r="5.4" fill="#6256A8"/>
<circle cx="2138.81" cy="877.67" r="5.4" fill="#6256A8"/>
<circle cx="2236.85" cy="877.67" r="5.4" fill="#6256A8"/>
<circle cx="2334.89" cy="897.29" r="5.4" fill="#6256A8"/>
<circle cx="2432.93" cy="877.67" r="5.4" fill="#6256A8"/>
<rect x="2067.49" y="670.18" width="387.55" height="281.14" fill="none" stroke="#333333" stroke-width="1.3"/>
</g>
<g>
<path d="M71.49 1231.87H459.04M71.49 1180.57H459.04M71.49 1129.27H459.04M71.49 1077.97H459.04M71.49 1026.67H459.04M71.49 975.37H459.04M93.79 963.08V1244.22M142.81 963.08V1244.22M240.85 963.08V1244.22M338.89 963.08V1244.22M436.93 963.08V1244.22" stroke="#E6E6E6" stroke-width="1.9" fill="none"/>
<rect x="71.49" y="963.08" width="387.55" height="281.14" fill="none" stroke="#333333" stroke-width="1.3"/>
</g>
<g>
<path d="M470.69 1231.87H858.24M470.69 1180.57H858.24M470.69 1129.27H858.24M470.69 1077.97H858.24M470.69 1026.67H858.24M470.69 975.37H858.24M492.99 963.08V1244.22M542.01 963.08V1244.22M640.05 963.08V1244.22M738.09 963.08V1244.22M836.13 963.08V1244.22" stroke="#E6E6E6" stroke-width="1.9" fill="none"/>
<rect x="470.69" y="963.08" width="387.55" height="281.14" fill="none" stroke="#333333" stroke-width="1.3"/>
</g>
<g>
<path d="M869.89 1231.87H1257.44M869.89 1180.57H1257.44M869.89 1129.27H1257.44M869.89 1077.97H1257.44M869.89 1026.67H1257.44M869.89 975.37H1257.44M892.19 963.08V1244.22M941.21 963.08V1244.22M1039.25 963.08V1244.22M1137.29 963.08V1244.22M1235.33 963.08V1244.22" stroke="#E6E6E6" stroke-width="1.9" fill="none"/>
<path d="M1132.39 1159.54H1142.19M1137.29 1159.54V1201.6M1132.39 1201.6H1142.19" stroke="#1C9566" stroke-width="2.0" fill="none"/>
<path d="M936.31 1168.51H946.11M941.21 1168.51V1209.55M936.31 1209.55H946.11M1034.35 1112.08H1044.15M1039.25 1112.08V1180.83M1034.35 1180.83H1044.15M1132.39 1147.23H1142.19M1137.29 1147.23V1196.47M1132.39 1196.47H1142.19M1230.43 1120.29H1240.23M1235.33 1120.29V1189.55M1230.43 1189.55H1240.23" stroke="#D24A0A" stroke-width="2.0" fill="none"/>
<path d="M936.31 1123.37H946.11M941.21 1123.37V1186.47M936.31 1186.47H946.11M1034.35 1106.7H1044.15M1039.25 1106.7V1168.77M1034.35 1168.77H1044.15M1132.39 1069.25H1142.19M1137.29 1069.25V1137.99M1132.39 1137.99H1142.19M1230.43 1029.49H1240.23M1235.33 1029.49V1092.08M1230.43 1092.08H1240.23" stroke="#6256A8" stroke-width="2.0" fill="none"/>
<polyline points="892.19,1231.87 941.21,1231.87 1039.25,1231.87 1137.29,1180.57 1235.33,1129.27" stroke="#1C9566" stroke-width="6.0" fill="none" stroke-linejoin="round" stroke-linecap="butt"/>
<polyline points="892.19,1231.87 941.21,1189.03 1039.25,1146.46 1137.29,1171.85 1235.33,1154.92" stroke="#D24A0A" stroke-width="6.0" fill="none" stroke-linejoin="round" stroke-linecap="butt"/>
<polyline points="892.19,1231.87 941.21,1154.92 1039.25,1137.73 1137.29,1103.62 1235.33,1060.78" stroke="#6256A8" stroke-width="6.0" fill="none" stroke-linejoin="round" stroke-linecap="butt"/>
<circle cx="892.19" cy="1231.87" r="5.4" fill="#1C9566"/>
<circle cx="941.21" cy="1231.87" r="5.4" fill="#1C9566"/>
<circle cx="1039.25" cy="1231.87" r="5.4" fill="#1C9566"/>
<circle cx="1137.29" cy="1180.57" r="5.4" fill="#1C9566"/>
<circle cx="1235.33" cy="1129.27" r="5.4" fill="#1C9566"/>
<circle cx="892.19" cy="1231.87" r="5.4" fill="#D24A0A"/>
<circle cx="941.21" cy="1189.03" r="5.4" fill="#D24A0A"/>
<circle cx="1039.25" cy="1146.46" r="5.4" fill="#D24A0A"/>
<circle cx="1137.29" cy="1171.85" r="5.4" fill="#D24A0A"/>
<circle cx="1235.33" cy="1154.92" r="5.4" fill="#D24A0A"/>
<circle cx="892.19" cy="1231.87" r="5.4" fill="#6256A8"/>
<circle cx="941.21" cy="1154.92" r="5.4" fill="#6256A8"/>
<circle cx="1039.25" cy="1137.73" r="5.4" fill="#6256A8"/>
<circle cx="1137.29" cy="1103.62" r="5.4" fill="#6256A8"/>
<circle cx="1235.33" cy="1060.78" r="5.4" fill="#6256A8"/>
<rect x="869.89" y="963.08" width="387.55" height="281.14" fill="none" stroke="#333333" stroke-width="1.3"/>
</g>
<g>
<path d="M1269.09 1231.87H1656.64M1269.09 1180.57H1656.64M1269.09 1129.27H1656.64M1269.09 1077.97H1656.64M1269.09 1026.67H1656.64M1269.09 975.37H1656.64M1291.39 963.08V1244.22M1340.41 963.08V1244.22M1438.45 963.08V1244.22M1536.49 963.08V1244.22M1634.53 963.08V1244.22" stroke="#E6E6E6" stroke-width="1.9" fill="none"/>
<path d="M1433.55 1206.22H1443.35M1531.59 1180.57H1541.39M1629.63 1191.34H1639.43M1634.53 1191.34V1221.1M1629.63 1221.1H1639.43" stroke="#1C9566" stroke-width="2.0" fill="none"/>
<path d="M1335.51 1161.85H1345.31M1340.41 1161.85V1199.29M1335.51 1199.29H1345.31M1433.55 1137.48H1443.35M1438.45 1137.48V1162.1M1433.55 1162.1H1443.35M1531.59 1133.89H1541.39M1536.49 1133.89V1186.21M1531.59 1186.21H1541.39M1629.63 1157.49H1639.43M1634.53 1157.49V1203.66M1629.63 1203.66H1639.43" stroke="#D24A0A" stroke-width="2.0" fill="none"/>
<path d="M1335.51 1203.91H1345.31M1340.41 1203.91V1225.46M1335.51 1225.46H1345.31M1433.55 1157.49H1443.35M1438.45 1157.49V1203.66M1433.55 1203.66H1443.35M1531.59 1147.48H1541.39M1536.49 1147.48V1196.73M1531.59 1196.73H1541.39M1629.63 1164.67H1639.43M1634.53 1164.67V1213.92M1629.63 1213.92H1639.43" stroke="#6256A8" stroke-width="2.0" fill="none"/>
<polyline points="1291.39,1231.87 1340.41,1231.87 1438.45,1219.05 1536.49,1206.22 1634.53,1206.22" stroke="#1C9566" stroke-width="6.0" fill="none" stroke-linejoin="round" stroke-linecap="butt"/>
<polyline points="1291.39,1231.87 1340.41,1180.57 1438.45,1149.79 1536.49,1160.05 1634.53,1180.57" stroke="#D24A0A" stroke-width="6.0" fill="none" stroke-linejoin="round" stroke-linecap="butt"/>
<polyline points="1291.39,1231.87 1340.41,1214.68 1438.45,1180.57 1536.49,1172.11 1634.53,1189.29" stroke="#6256A8" stroke-width="6.0" fill="none" stroke-linejoin="round" stroke-linecap="butt"/>
<circle cx="1291.39" cy="1231.87" r="5.4" fill="#1C9566"/>
<circle cx="1340.41" cy="1231.87" r="5.4" fill="#1C9566"/>
<circle cx="1438.45" cy="1219.05" r="5.4" fill="#1C9566"/>
<circle cx="1536.49" cy="1206.22" r="5.4" fill="#1C9566"/>
<circle cx="1634.53" cy="1206.22" r="5.4" fill="#1C9566"/>
<circle cx="1291.39" cy="1231.87" r="5.4" fill="#D24A0A"/>
<circle cx="1340.41" cy="1180.57" r="5.4" fill="#D24A0A"/>
<circle cx="1438.45" cy="1149.79" r="5.4" fill="#D24A0A"/>
<circle cx="1536.49" cy="1160.05" r="5.4" fill="#D24A0A"/>
<circle cx="1634.53" cy="1180.57" r="5.4" fill="#D24A0A"/>
<circle cx="1291.39" cy="1231.87" r="5.4" fill="#6256A8"/>
<circle cx="1340.41" cy="1214.68" r="5.4" fill="#6256A8"/>
<circle cx="1438.45" cy="1180.57" r="5.4" fill="#6256A8"/>
<circle cx="1536.49" cy="1172.11" r="5.4" fill="#6256A8"/>
<circle cx="1634.53" cy="1189.29" r="5.4" fill="#6256A8"/>
<rect x="1269.09" y="963.08" width="387.55" height="281.14" fill="none" stroke="#333333" stroke-width="1.3"/>
</g>
<g>
<path d="M1668.29 1231.87H2055.84M1668.29 1180.57H2055.84M1668.29 1129.27H2055.84M1668.29 1077.97H2055.84M1668.29 1026.67H2055.84M1668.29 975.37H2055.84M1690.59 963.08V1244.22M1739.61 963.08V1244.22M1837.65 963.08V1244.22M1935.69 963.08V1244.22M2033.73 963.08V1244.22" stroke="#E6E6E6" stroke-width="1.9" fill="none"/>
<path d="M1930.79 1180.57H1940.59M1935.69 1180.57V1206.22M1930.79 1206.22H1940.59" stroke="#1C9566" stroke-width="2.0" fill="none"/>
<path d="M1734.71 1199.04H1744.51M1739.61 1199.04V1226.23M1734.71 1226.23H1744.51M1832.75 1180.57H1842.55M1837.65 1180.57V1206.22M1832.75 1206.22H1842.55M1930.79 1203.14H1940.59M1935.69 1203.14V1222.12M1930.79 1222.12H1940.59M2028.83 1119.78H2038.63M2033.73 1119.78V1202.89M2028.83 1202.89H2038.63" stroke="#D24A0A" stroke-width="2.0" fill="none"/>
<path d="M1930.79 1162.36H1940.59M1935.69 1162.36V1231.87M1930.79 1231.87H1940.59M2028.83 1117.73H2038.63M2033.73 1117.73V1209.04M2028.83 1209.04H2038.63" stroke="#6256A8" stroke-width="2.0" fill="none"/>
<polyline points="1690.59,1231.87 1739.61,1231.87 1837.65,1231.87 1935.69,1193.4 2033.73,1231.87" stroke="#1C9566" stroke-width="6.0" fill="none" stroke-linejoin="round" stroke-linecap="butt"/>
<polyline points="1690.59,1231.87 1739.61,1212.63 1837.65,1193.4 1935.69,1212.63 2033.73,1161.33" stroke="#D24A0A" stroke-width="6.0" fill="none" stroke-linejoin="round" stroke-linecap="butt"/>
<polyline points="1690.59,1231.87 1739.61,1231.87 1837.65,1231.87 1935.69,1197.11 2033.73,1163.38" stroke="#6256A8" stroke-width="6.0" fill="none" stroke-linejoin="round" stroke-linecap="butt"/>
<circle cx="1690.59" cy="1231.87" r="5.4" fill="#1C9566"/>
<circle cx="1739.61" cy="1231.87" r="5.4" fill="#1C9566"/>
<circle cx="1837.65" cy="1231.87" r="5.4" fill="#1C9566"/>
<circle cx="1935.69" cy="1193.4" r="5.4" fill="#1C9566"/>
<circle cx="2033.73" cy="1231.87" r="5.4" fill="#1C9566"/>
<circle cx="1690.59" cy="1231.87" r="5.4" fill="#D24A0A"/>
<circle cx="1739.61" cy="1212.63" r="5.4" fill="#D24A0A"/>
<circle cx="1837.65" cy="1193.4" r="5.4" fill="#D24A0A"/>
<circle cx="1935.69" cy="1212.63" r="5.4" fill="#D24A0A"/>
<circle cx="2033.73" cy="1161.33" r="5.4" fill="#D24A0A"/>
<circle cx="1690.59" cy="1231.87" r="5.4" fill="#6256A8"/>
<circle cx="1739.61" cy="1231.87" r="5.4" fill="#6256A8"/>
<circle cx="1837.65" cy="1231.87" r="5.4" fill="#6256A8"/>
<circle cx="1935.69" cy="1197.11" r="5.4" fill="#6256A8"/>
<circle cx="2033.73" cy="1163.38" r="5.4" fill="#6256A8"/>
<rect x="1668.29" y="963.08" width="387.55" height="281.14" fill="none" stroke="#333333" stroke-width="1.3"/>
</g>
<g>
<path d="M2067.49 1231.87H2455.04M2067.49 1180.57H2455.04M2067.49 1129.27H2455.04M2067.49 1077.97H2455.04M2067.49 1026.67H2455.04M2067.49 975.37H2455.04M2089.79 963.08V1244.22M2138.81 963.08V1244.22M2236.85 963.08V1244.22M2334.89 963.08V1244.22M2432.93 963.08V1244.22" stroke="#E6E6E6" stroke-width="1.9" fill="none"/>
<path d="M2133.91 1206.22H2143.71M2329.99 1159.28H2339.79M2334.89 1159.28V1201.86M2329.99 1201.86H2339.79M2428.03 1146.2H2437.83M2432.93 1146.2V1180.57M2428.03 1180.57H2437.83" stroke="#1C9566" stroke-width="2.0" fill="none"/>
<path d="M2133.91 1186.73H2143.71M2138.81 1186.73V1208.27M2133.91 1208.27H2143.71M2231.95 1150.82H2241.75M2236.85 1150.82V1210.32M2231.95 1210.32H2241.75M2329.99 1139.79H2339.79M2334.89 1139.79V1170.05M2329.99 1170.05H2339.79M2428.03 1083.87H2437.83M2432.93 1083.87V1148.51M2428.03 1148.51H2437.83" stroke="#D24A0A" stroke-width="2.0" fill="none"/>
<path d="M2133.91 1187.75H2143.71M2138.81 1187.75V1231.87M2133.91 1231.87H2143.71M2231.95 1192.11H2241.75M2236.85 1192.11V1212.63M2231.95 1212.63H2241.75M2329.99 1167.1H2339.79M2334.89 1167.1V1209.17M2329.99 1209.17H2339.79M2428.03 1093.1H2437.83M2432.93 1093.1V1150.56M2428.03 1150.56H2437.83" stroke="#6256A8" stroke-width="2.0" fill="none"/>
<polyline points="2089.79,1231.87 2138.81,1219.05 2236.85,1231.87 2334.89,1180.57 2432.93,1163.38" stroke="#1C9566" stroke-width="6.0" fill="none" stroke-linejoin="round" stroke-linecap="butt"/>
<polyline points="2089.79,1231.87 2138.81,1197.5 2236.85,1180.57 2334.89,1154.92 2432.93,1116.19" stroke="#D24A0A" stroke-width="6.0" fill="none" stroke-linejoin="round" stroke-linecap="butt"/>
<polyline points="2089.79,1231.87 2138.81,1209.81 2236.85,1202.37 2334.89,1188.14 2432.93,1121.83" stroke="#6256A8" stroke-width="6.0" fill="none" stroke-linejoin="round" stroke-linecap="butt"/>
<circle cx="2089.79" cy="1231.87" r="5.4" fill="#1C9566"/>
<circle cx="2138.81" cy="1219.05" r="5.4" fill="#1C9566"/>
<circle cx="2236.85" cy="1231.87" r="5.4" fill="#1C9566"/>
<circle cx="2334.89" cy="1180.57" r="5.4" fill="#1C9566"/>
<circle cx="2432.93" cy="1163.38" r="5.4" fill="#1C9566"/>
<circle cx="2089.79" cy="1231.87" r="5.4" fill="#D24A0A"/>
<circle cx="2138.81" cy="1197.5" r="5.4" fill="#D24A0A"/>
<circle cx="2236.85" cy="1180.57" r="5.4" fill="#D24A0A"/>
<circle cx="2334.89" cy="1154.92" r="5.4" fill="#D24A0A"/>
<circle cx="2432.93" cy="1116.19" r="5.4" fill="#D24A0A"/>
<circle cx="2089.79" cy="1231.87" r="5.4" fill="#6256A8"/>
<circle cx="2138.81" cy="1209.81" r="5.4" fill="#6256A8"/>
<circle cx="2236.85" cy="1202.37" r="5.4" fill="#6256A8"/>
<circle cx="2334.89" cy="1188.14" r="5.4" fill="#6256A8"/>
<circle cx="2432.93" cy="1121.83" r="5.4" fill="#6256A8"/>
<rect x="2067.49" y="963.08" width="387.55" height="281.14" fill="none" stroke="#333333" stroke-width="1.3"/>
</g>
<rect x="71.49" y="3.73" width="387.55" height="39.25" fill="#D0D0D0" stroke="#333333" stroke-width="1.3" stroke-linejoin="round"/>
<rect x="71.49" y="43.68" width="387.55" height="39.77" fill="#D0D0D0" stroke="#333333" stroke-width="1.3" stroke-linejoin="round"/>
<text class="st" transform="translate(265.26 33.3) scale(1 1.045)" text-anchor="middle">Control</text>
<text class="st" transform="translate(265.26 72.9) scale(1 1.045)" text-anchor="middle">Fresh</text>
<rect x="470.69" y="3.73" width="387.55" height="39.25" fill="#D0D0D0" stroke="#333333" stroke-width="1.3" stroke-linejoin="round"/>
<rect x="470.69" y="43.68" width="387.55" height="39.77" fill="#D0D0D0" stroke="#333333" stroke-width="1.3" stroke-linejoin="round"/>
<text class="st" transform="translate(664.47 33.3) scale(1 1.045)" text-anchor="middle">Control</text>
<text class="st" transform="translate(664.47 72.9) scale(1 1.045)" text-anchor="middle">Leachate</text>
<rect x="869.89" y="3.73" width="387.55" height="39.25" fill="#D0D0D0" stroke="#333333" stroke-width="1.3" stroke-linejoin="round"/>
<rect x="869.89" y="43.68" width="387.55" height="39.77" fill="#D0D0D0" stroke="#333333" stroke-width="1.3" stroke-linejoin="round"/>
<text class="st" transform="translate(1063.66 33.3) scale(1 1.045)" text-anchor="middle">HDPE</text>
<rect x="1269.09" y="3.73" width="387.55" height="39.25" fill="#D0D0D0" stroke="#333333" stroke-width="1.3" stroke-linejoin="round"/>
<rect x="1269.09" y="43.68" width="387.55" height="39.77" fill="#D0D0D0" stroke="#333333" stroke-width="1.3" stroke-linejoin="round"/>
<text class="st" transform="translate(1462.87 33.3) scale(1 1.045)" text-anchor="middle">LDPE</text>
<rect x="1668.29" y="3.73" width="387.55" height="39.25" fill="#D0D0D0" stroke="#333333" stroke-width="1.3" stroke-linejoin="round"/>
<rect x="1668.29" y="43.68" width="387.55" height="39.77" fill="#D0D0D0" stroke="#333333" stroke-width="1.3" stroke-linejoin="round"/>
<text class="st" transform="translate(1862.07 33.3) scale(1 1.045)" text-anchor="middle">Nylon</text>
<rect x="2067.49" y="3.73" width="387.55" height="39.25" fill="#D0D0D0" stroke="#333333" stroke-width="1.3" stroke-linejoin="round"/>
<rect x="2067.49" y="43.68" width="387.55" height="39.77" fill="#D0D0D0" stroke="#333333" stroke-width="1.3" stroke-linejoin="round"/>
<text class="st" transform="translate(2261.26 33.3) scale(1 1.045)" text-anchor="middle">PP</text>
<rect x="2456" y="84.38" width="39.35" height="281.14" fill="#D0D0D0" stroke="#333333" stroke-width="1.3" stroke-linejoin="round"/>
<text class="st" transform="translate(2466.8 224.95) rotate(90) scale(1 1.045)" text-anchor="middle">0</text>
<rect x="2456" y="377.28" width="39.35" height="281.14" fill="#D0D0D0" stroke="#333333" stroke-width="1.3" stroke-linejoin="round"/>
<text class="st" transform="translate(2466.8 517.85) rotate(90) scale(1 1.045)" text-anchor="middle">50</text>
<rect x="2456" y="670.18" width="39.35" height="281.14" fill="#D0D0D0" stroke="#333333" stroke-width="1.3" stroke-linejoin="round"/>
<text class="st" transform="translate(2466.8 810.75) rotate(90) scale(1 1.045)" text-anchor="middle">100</text>
<rect x="2456" y="963.08" width="39.35" height="281.14" fill="#D0D0D0" stroke="#333333" stroke-width="1.3" stroke-linejoin="round"/>
<text class="st" transform="translate(2466.8 1103.65) rotate(90) scale(1 1.045)" text-anchor="middle">200</text>
<text class="tl" transform="translate(60.7 360.97) scale(1 1.045)" text-anchor="end">0.0</text>
<text class="tl" transform="translate(60.7 309.67) scale(1 1.045)" text-anchor="end">0.2</text>
<text class="tl" transform="translate(60.7 258.37) scale(1 1.045)" text-anchor="end">0.4</text>
<text class="tl" transform="translate(60.7 207.07) scale(1 1.045)" text-anchor="end">0.6</text>
<text class="tl" transform="translate(60.7 155.77) scale(1 1.045)" text-anchor="end">0.8</text>
<text class="tl" transform="translate(60.7 104.47) scale(1 1.045)" text-anchor="end">1.0</text>
<path d="M65.89 353.17H71.49M65.89 301.87H71.49M65.89 250.57H71.49M65.89 199.27H71.49M65.89 147.97H71.49M65.89 96.67H71.49" stroke="#262626" stroke-width="2.1" fill="none"/>
<text class="tl" transform="translate(60.7 653.87) scale(1 1.045)" text-anchor="end">0.0</text>
<text class="tl" transform="translate(60.7 602.57) scale(1 1.045)" text-anchor="end">0.2</text>
<text class="tl" transform="translate(60.7 551.27) scale(1 1.045)" text-anchor="end">0.4</text>
<text class="tl" transform="translate(60.7 499.97) scale(1 1.045)" text-anchor="end">0.6</text>
<text class="tl" transform="translate(60.7 448.67) scale(1 1.045)" text-anchor="end">0.8</text>
<text class="tl" transform="translate(60.7 397.37) scale(1 1.045)" text-anchor="end">1.0</text>
<path d="M65.89 646.07H71.49M65.89 594.77H71.49M65.89 543.47H71.49M65.89 492.17H71.49M65.89 440.87H71.49M65.89 389.57H71.49" stroke="#262626" stroke-width="2.1" fill="none"/>
<text class="tl" transform="translate(60.7 946.77) scale(1 1.045)" text-anchor="end">0.0</text>
<text class="tl" transform="translate(60.7 895.47) scale(1 1.045)" text-anchor="end">0.2</text>
<text class="tl" transform="translate(60.7 844.17) scale(1 1.045)" text-anchor="end">0.4</text>
<text class="tl" transform="translate(60.7 792.87) scale(1 1.045)" text-anchor="end">0.6</text>
<text class="tl" transform="translate(60.7 741.57) scale(1 1.045)" text-anchor="end">0.8</text>
<text class="tl" transform="translate(60.7 690.27) scale(1 1.045)" text-anchor="end">1.0</text>
<path d="M65.89 938.97H71.49M65.89 887.67H71.49M65.89 836.37H71.49M65.89 785.07H71.49M65.89 733.77H71.49M65.89 682.47H71.49" stroke="#262626" stroke-width="2.1" fill="none"/>
<text class="tl" transform="translate(60.7 1239.67) scale(1 1.045)" text-anchor="end">0.0</text>
<text class="tl" transform="translate(60.7 1188.37) scale(1 1.045)" text-anchor="end">0.2</text>
<text class="tl" transform="translate(60.7 1137.07) scale(1 1.045)" text-anchor="end">0.4</text>
<text class="tl" transform="translate(60.7 1085.77) scale(1 1.045)" text-anchor="end">0.6</text>
<text class="tl" transform="translate(60.7 1034.47) scale(1 1.045)" text-anchor="end">0.8</text>
<text class="tl" transform="translate(60.7 983.17) scale(1 1.045)" text-anchor="end">1.0</text>
<path d="M65.89 1231.87H71.49M65.89 1180.57H71.49M65.89 1129.27H71.49M65.89 1077.97H71.49M65.89 1026.67H71.49M65.89 975.37H71.49" stroke="#262626" stroke-width="2.1" fill="none"/>
<text class="tl" transform="translate(93.79 1270) scale(1 1.045)" text-anchor="middle">0</text>
<text class="tl" transform="translate(142.81 1270) scale(1 1.045)" text-anchor="middle">1</text>
<text class="tl" transform="translate(240.85 1270) scale(1 1.045)" text-anchor="middle">3</text>
<text class="tl" transform="translate(338.89 1270) scale(1 1.045)" text-anchor="middle">5</text>
<text class="tl" transform="translate(436.93 1270) scale(1 1.045)" text-anchor="middle">7</text>
<path d="M93.79 1244.22V1249.82M142.81 1244.22V1249.82M240.85 1244.22V1249.82M338.89 1244.22V1249.82M436.93 1244.22V1249.82" stroke="#262626" stroke-width="2.1" fill="none"/>
<text class="tl" transform="translate(492.99 1270) scale(1 1.045)" text-anchor="middle">0</text>
<text class="tl" transform="translate(542.01 1270) scale(1 1.045)" text-anchor="middle">1</text>
<text class="tl" transform="translate(640.05 1270) scale(1 1.045)" text-anchor="middle">3</text>
<text class="tl" transform="translate(738.09 1270) scale(1 1.045)" text-anchor="middle">5</text>
<text class="tl" transform="translate(836.13 1270) scale(1 1.045)" text-anchor="middle">7</text>
<path d="M492.99 1244.22V1249.82M542.01 1244.22V1249.82M640.05 1244.22V1249.82M738.09 1244.22V1249.82M836.13 1244.22V1249.82" stroke="#262626" stroke-width="2.1" fill="none"/>
<text class="tl" transform="translate(892.19 1270) scale(1 1.045)" text-anchor="middle">0</text>
<text class="tl" transform="translate(941.21 1270) scale(1 1.045)" text-anchor="middle">1</text>
<text class="tl" transform="translate(1039.25 1270) scale(1 1.045)" text-anchor="middle">3</text>
<text class="tl" transform="translate(1137.29 1270) scale(1 1.045)" text-anchor="middle">5</text>
<text class="tl" transform="translate(1235.33 1270) scale(1 1.045)" text-anchor="middle">7</text>
<path d="M892.19 1244.22V1249.82M941.21 1244.22V1249.82M1039.25 1244.22V1249.82M1137.29 1244.22V1249.82M1235.33 1244.22V1249.82" stroke="#262626" stroke-width="2.1" fill="none"/>
<text class="tl" transform="translate(1291.39 1270) scale(1 1.045)" text-anchor="middle">0</text>
<text class="tl" transform="translate(1340.41 1270) scale(1 1.045)" text-anchor="middle">1</text>
<text class="tl" transform="translate(1438.45 1270) scale(1 1.045)" text-anchor="middle">3</text>
<text class="tl" transform="translate(1536.49 1270) scale(1 1.045)" text-anchor="middle">5</text>
<text class="tl" transform="translate(1634.53 1270) scale(1 1.045)" text-anchor="middle">7</text>
<path d="M1291.39 1244.22V1249.82M1340.41 1244.22V1249.82M1438.45 1244.22V1249.82M1536.49 1244.22V1249.82M1634.53 1244.22V1249.82" stroke="#262626" stroke-width="2.1" fill="none"/>
<text class="tl" transform="translate(1690.59 1270) scale(1 1.045)" text-anchor="middle">0</text>
<text class="tl" transform="translate(1739.61 1270) scale(1 1.045)" text-anchor="middle">1</text>
<text class="tl" transform="translate(1837.65 1270) scale(1 1.045)" text-anchor="middle">3</text>
<text class="tl" transform="translate(1935.69 1270) scale(1 1.045)" text-anchor="middle">5</text>
<text class="tl" transform="translate(2033.73 1270) scale(1 1.045)" text-anchor="middle">7</text>
<path d="M1690.59 1244.22V1249.82M1739.61 1244.22V1249.82M1837.65 1244.22V1249.82M1935.69 1244.22V1249.82M2033.73 1244.22V1249.82" stroke="#262626" stroke-width="2.1" fill="none"/>
<text class="tl" transform="translate(2089.79 1270) scale(1 1.045)" text-anchor="middle">0</text>
<text class="tl" transform="translate(2138.81 1270) scale(1 1.045)" text-anchor="middle">1</text>
<text class="tl" transform="translate(2236.85 1270) scale(1 1.045)" text-anchor="middle">3</text>
<text class="tl" transform="translate(2334.89 1270) scale(1 1.045)" text-anchor="middle">5</text>
<text class="tl" transform="translate(2432.93 1270) scale(1 1.045)" text-anchor="middle">7</text>
<path d="M2089.79 1244.22V1249.82M2138.81 1244.22V1249.82M2236.85 1244.22V1249.82M2334.89 1244.22V1249.82M2432.93 1244.22V1249.82" stroke="#262626" stroke-width="2.1" fill="none"/>
<text class="at" transform="translate(1263.8 1297.2) scale(1 1.045)" text-anchor="middle">Day of Experiment</text>
<text class="at" transform="translate(21.2 663.8) rotate(-90) scale(1 1.045)" text-anchor="middle">Settlement Proportion(%)</text>
<text class="lt" transform="translate(724.6 1360.2) scale(1 1.045)">Species (Month)</text>
<path d="M908.2 1351.4H934.8" stroke="#1C9566" stroke-width="6.4" fill="none"/>
<circle cx="921.5" cy="1351.4" r="5.4" fill="#1C9566"/>
<text class="ll" transform="translate(949.1 1357.1) scale(1 1.045)" xml:space="preserve"><tspan font-style="italic">Montipora capitata</tspan> ( June )</text>
<path d="M1216.9 1351.4H1243.5" stroke="#D24A0A" stroke-width="6.4" fill="none"/>
<circle cx="1230.2" cy="1351.4" r="5.4" fill="#D24A0A"/>
<text class="ll" transform="translate(1257.7 1357.1) scale(1 1.045)" xml:space="preserve">Harbor <tspan font-style="italic">Porites</tspan> ( June )</text>
<path d="M1487.3 1351.4H1513.9" stroke="#6256A8" stroke-width="6.4" fill="none"/>
<circle cx="1500.6" cy="1351.4" r="5.4" fill="#6256A8"/>
<text class="ll" transform="translate(1528.1 1357.1) scale(1 1.045)" xml:space="preserve">Harbor <tspan font-style="italic">Porites</tspan> ( September )</text>
</svg></body></html>
